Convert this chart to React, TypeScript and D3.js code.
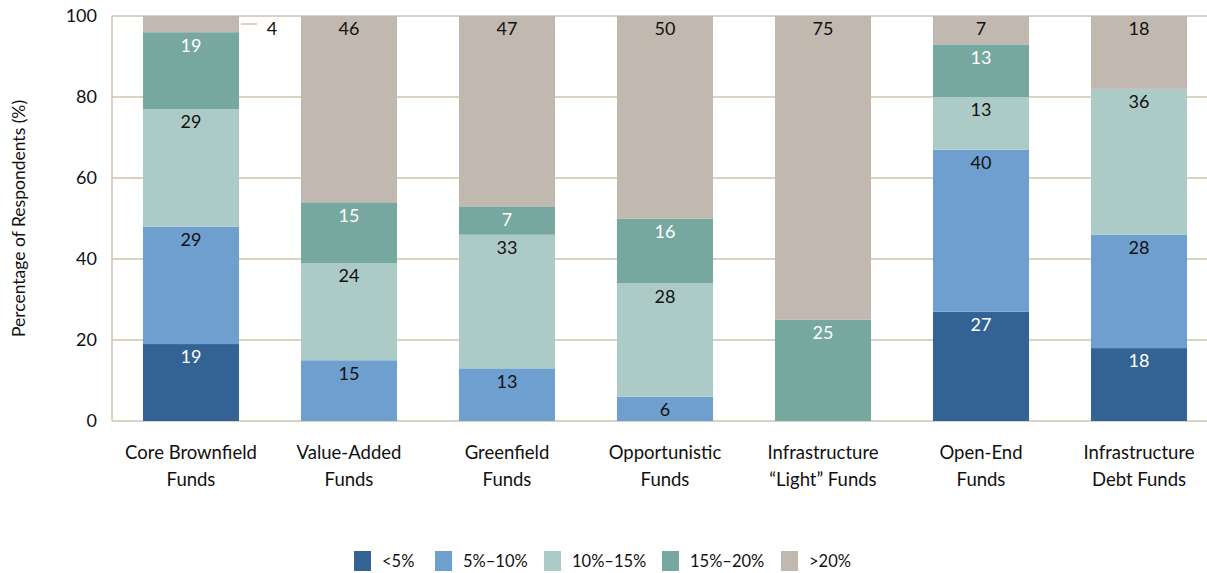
import React from "react";
import * as d3 from "d3";

const categories = [
  ["Core Brownfield", "Funds"],
  ["Value-Added", "Funds"],
  ["Greenfield", "Funds"],
  ["Opportunistic", "Funds"],
  ["Infrastructure", "\u201CLight\u201D Funds"],
  ["Open-End", "Funds"],
  ["Infrastructure", "Debt Funds"],
];
const seriesNames = ["<5%", "5%\u201310%", "10%\u201315%", "15%\u201320%", ">20%"];
const lt5 = [19, 0, 0, 0, 0, 27, 18];
const s5to10 = [29, 15, 13, 6, 0, 40, 28];
const s10to15 = [29, 24, 33, 28, 0, 13, 36];
const s15to20 = [19, 15, 7, 16, 25, 13, 0];
const gt20 = [4, 46, 47, 50, 75, 7, 18];
const yTicks = [0, 20, 40, 60, 80, 100];

const colors = ["#336394", "#6f9fcf", "#adcbc6", "#77a8a0", "#c1b8af"];
const labelColors = ["#ffffff", "#111111", "#111111", "#ffffff", "#111111"];
const FONT = "Lato, 'DejaVu Sans', sans-serif";

export default function App() {
  const W = 1207, H = 573;
  const left = 112, right = 1218, top = 16, bottom = 421;
  const series = [lt5, s5to10, s10to15, s15to20, gt20];
  const keys = categories.map((_, i) => String(i));
  const x = d3.scaleBand<string>().domain(keys).range([left, right]).paddingInner(0.392).paddingOuter(0.196);
  const y = d3.scaleLinear().domain([0, 100]).range([bottom, top]);

  const rows = keys.map((k, i) => {
    const o: any = { key: k };
    series.forEach((s, j) => (o["s" + j] = s[i]));
    return o;
  });
  const stack = d3.stack<any>().keys(series.map((_, j) => "s" + j))(rows);

  const grid = "#cfc3ad";

  return (
    <div style={{ position: "absolute", left: 0, top: 0 }}>
      <svg width={W} height={H} style={{ display: "block", fontFamily: FONT }}>
        <rect width={W} height={H} fill="#ffffff" />
        {yTicks.map((t) => (
          <g key={t}>
            <line x1={left} x2={right} y1={y(t)} y2={y(t)} stroke={grid} strokeWidth={1.5} />
            <text x={97} y={y(t)} dy="0.35em" textAnchor="end" fontSize={18} fill="#111">
              {t}
            </text>
          </g>
        ))}
        <line x1={left} x2={left} y1={top} y2={bottom} stroke={grid} strokeWidth={1.5} />
        {stack.map((layer, j) => (
          <g key={j}>
            {layer.map((d, i) => {
              const v = d[1] - d[0];
              if (v <= 0) return null;
              const x0 = x(keys[i])!;
              const bw = x.bandwidth();
              const yTop = y(d[1]);
              const yBot = y(d[0]);
              const small = v < 5;
              return (
                <g key={i}>
                  <rect x={x0} y={yTop} width={bw} height={yBot - yTop} fill={colors[j]} />
                  {small ? (
                    <g>
                      <line x1={x0 + bw + 2} x2={x0 + bw + 18} y1={yTop + 8} y2={yTop + 8} stroke={grid} strokeWidth={1.5} />
                      <text x={x0 + bw + 33} y={yTop + 13} dy="0.35em" textAnchor="middle" fontSize={18} fill="#111">
                        {v}
                      </text>
                    </g>
                  ) : (
                    <text x={x0 + bw / 2} y={yTop + 13} dy="0.35em" textAnchor="middle" fontSize={18} fill={labelColors[j]}>
                      {v}
                    </text>
                  )}
                </g>
              );
            })}
          </g>
        ))}
        {categories.map((c, i) => (
          <text key={i} x={x(keys[i])! + x.bandwidth() / 2} textAnchor="middle" fontSize={18.5} fill="#111">
            <tspan x={x(keys[i])! + x.bandwidth() / 2} y={453} dy="0.35em">{c[0]}</tspan>
            <tspan x={x(keys[i])! + x.bandwidth() / 2} y={480} dy="0.35em">{c[1]}</tspan>
          </text>
        ))}
        <text transform={`translate(19,${(top + bottom) / 2}) rotate(-90)`} textAnchor="middle" dy="0.35em" fontSize={17.5} fill="#111">
          Percentage of Respondents (%)
        </text>
        {seriesNames.map((n, j) => {
          const lx = [354, 435, 544, 662, 781][j];
          return (
            <g key={j}>
              <rect x={lx} y={551} width={17} height={20} fill={colors[j]} />
              <text x={lx + 28} y={561} dy="0.35em" fontSize={16.5} fill="#111">
                {n}
              </text>
            </g>
          );
        })}
      </svg>
    </div>
  );
}
